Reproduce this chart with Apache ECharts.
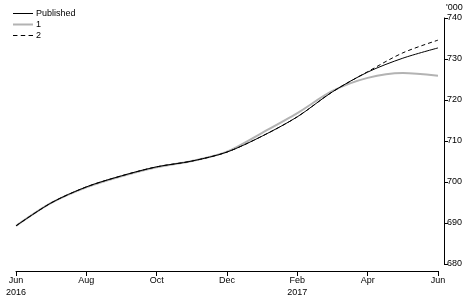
<!DOCTYPE html>
<html><head><meta charset="utf-8">
<script src="https://cdn.jsdelivr.net/npm/echarts@6/dist/echarts.min.js"></script>
<style>html,body{margin:0;padding:0;background:#fff}#c{width:472px;height:302px}</style>
</head><body><div id="c"></div>
<script>
const categories = ['Jun 2016','Jul 2016','Aug 2016','Sep 2016','Oct 2016','Nov 2016','Dec 2016','Jan 2017','Feb 2017','Mar 2017','Apr 2017','May 2017','Jun 2017'];
const xTickLabels = ['Jun\n2016','','Aug','','Oct','','Dec','','Feb\n2017','','Apr','','Jun'];
const published = [689.3, 694.9, 698.8, 701.5, 703.7, 705.1, 707.3, 711.2, 715.9, 722.0, 726.8, 730.2, 732.7];
const series1 = [689.3, 694.9, 698.7, 701.4, 703.6, 705.1, 707.4, 712.0, 716.8, 722.2, 725.4, 726.6, 725.9];
const series2 = [689.3, 694.9, 698.8, 701.5, 703.7, 705.1, 707.3, 711.2, 715.9, 722.0, 726.9, 731.5, 734.6];
const yTicks = [680, 690, 700, 710, 720, 730, 740];

const font = 'Liberation Sans';
const chart = echarts.init(document.getElementById('c'));
chart.setOption({
  animation: false,
  textStyle: {fontFamily: font},
  grid: {left: 16, right: 34, top: 18, bottom: 38},
  legend: {
    orient: 'vertical', left: 8, top: 4, itemGap: 2, itemWidth: 20, itemHeight: 9,
    textStyle: {fontSize: 9, color: '#000', fontFamily: font, padding: [0,0,0,-2]},
    data: [
      {name: 'Published', icon: 'path://M0,0L20,0L20,1L0,1Z', itemStyle:{color:'#000'}},
      {name: '1', icon: 'path://M0,0L20,0L20,2L0,2Z', itemStyle:{color:'#b3b3b3'}},
      {name: '2', icon: 'path://M0,0L4,0L4,1L0,1ZM7,0L11,0L11,1L7,1ZM14,0L18,0L18,1L14,1Z', itemStyle:{color:'#000'}}
    ]
  },
  xAxis: {
    type: 'category', data: categories, boundaryGap: false, offset: 7,
    axisLine: {lineStyle: {color: '#000', width: 1}},
    axisTick: {interval: 1, length: 5, lineStyle: {color: '#000'}},
    axisLabel: {interval: 0, color: '#000', fontSize: 9, fontFamily: font, margin: 4, lineHeight: 12,
      formatter: (v, i) => xTickLabels[i]},
    splitLine: {show: false}
  },
  yAxis: {
    type: 'value', position: 'right', min: yTicks[0], max: yTicks[yTicks.length-1], interval: 10, offset: 6,
    name: "'000", nameGap: 6, nameTextStyle: {color: '#000', fontSize: 9, fontFamily: font, align: 'left', padding: [0,0,0,2]},
    axisLine: {show: true, lineStyle: {color: '#000', width: 1}},
    axisTick: {show: true, length: 4, lineStyle: {color: '#000'}},
    axisLabel: {color: '#000', fontSize: 9, fontFamily: font, margin: 3},
    splitLine: {show: false}
  },
  series: [
    {name: '1', type: 'line', data: series1, smooth: 0.3, symbol: 'none', lineStyle: {color: '#b3b3b3', width: 2}, itemStyle:{color:'#b3b3b3'}, z: 1},
    {name: '2', type: 'line', data: series2, smooth: 0.3, symbol: 'none', lineStyle: {color: '#000', width: 1, type: [4,3]}, itemStyle:{color:'#000'}, z: 2},
    {name: 'Published', type: 'line', data: published, smooth: 0.3, symbol: 'none', lineStyle: {color: '#000', width: 1}, itemStyle:{color:'#000'}, z: 3}
  ]
});
</script></body></html>
